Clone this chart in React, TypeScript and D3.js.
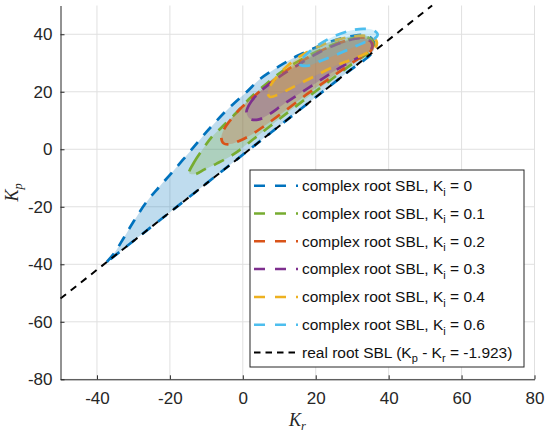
import React, { useEffect, useRef } from 'react'
import * as d3 from 'd3'

const xTicks = [-40, -20, 0, 20, 40, 60, 80]
const yTicks = [-80, -60, -40, -20, 0, 20, 40]

// Ki = 0 (cusp at the lower-left end, lower side is the real root line)
const kr0 = [-37.3, -35.2, -32.5, -30, -26.4, -23, -19.5, -14.5, -9.9, -4.4, 1.1, 4.7, 10, 15, 20, 25, 30, 33.5, 35.5, 36.1, 35.6, 28, 18, 8, -2, -12, -22, -32, -37.3]
const kp0 = [-39.2, -36.0, -30.5, -25.2, -18.3, -13.2, -8.2, -0.8, 6.1, 13.6, 20.0, 24.4, 28.9, 32.5, 35.4, 37.8, 39.4, 39.7, 38.3, 35.8, 33.7, 26.1, 16.1, 6.1, -3.9, -13.9, -23.9, -33.9, -39.2]

// Ki = 0.1
const kr1 = [-14.7, -13.3, -11, -8.5, -5.5, -1.7, 2, 6.5, 11, 16, 21, 26, 30.5, 33.8, 35.5, 35.8, 34.5, 30, 24, 17, 10, 4, -2.6, -7.2, -10.5, -13]
const kp1 = [-8.3, -4.4, 0, 4.3, 8, 12.8, 17.8, 22.8, 27.3, 31.2, 34.4, 37.0, 38.7, 39.1, 37.6, 35.5, 33.6, 29.7, 24.0, 17.3, 10.5, 4.6, -1.8, -5.0, -7.0, -8.6]

// Ki = 0.2
const kr2 = [-5.9, -5.0, -3.0, -0.8, 2.0, 4.7, 8.5, 13, 18, 23, 28, 32, 34.8, 35.6, 35.2, 31, 25, 18, 11, 6, 2, -1, -3.5, -5.2]
const kp2 = [4.0, 7.3, 10.8, 14.0, 17.2, 20.2, 24.0, 28.3, 32.0, 35.2, 37.6, 38.8, 38.3, 36.4, 34.4, 30.9, 25.7, 19.5, 12.8, 8.2, 4.8, 2.9, 1.8, 2.0]

// Ki = 0.3
const kr3 = [1.0, 1.8, 4.2, 7.9, 12, 16, 20.5, 25, 29, 32.5, 35, 35.5, 34.5, 31, 26, 21, 16, 11, 7, 4.2, 2]
const kp3 = [12.8, 15.6, 19.4, 23.3, 26.9, 30.0, 33.4, 36.1, 37.9, 38.6, 37.6, 35.6, 34.0, 31.5, 27.9, 23.8, 19.7, 15.5, 12.0, 10.3, 10.6]

// Ki = 0.4
const kr4 = [6.8, 7.6, 9.5, 12.5, 16, 20, 24.5, 29, 33, 35.8, 36.8, 36.2, 33, 29.4, 25.8, 20.3, 13.9, 10, 7.5]
const kp4 = [19.6, 22.2, 25.5, 29.3, 32.6, 35.3, 37.6, 39.0, 39.5, 38.8, 37.0, 35.2, 32.9, 31.0, 29.2, 25.8, 21.7, 19.2, 18.2]

// Ki = 0.6
const kr6 = [15.6, 16.5, 18.5, 21.5, 25, 29, 33, 36, 37, 36.2, 33, 29.5, 25.5, 21.5, 17.5]
const kp6 = [29.6, 31.8, 34.2, 36.9, 39.3, 41.1, 41.9, 41.3, 39.8, 38.5, 37.0, 35.0, 32.8, 30.8, 29.0]

// real root SBL: Kp - Kr = -1.923
const realKr = [-50, 51.923]
const realKp = [-51.923, 50]

const kiLabels = ['0', '0.1', '0.2', '0.3', '0.4', '0.6']
const colors = ['#0072BD', '#77AC30', '#D95319', '#7E2F8E', '#EDB120', '#4DBEEE']

const App: React.FC = () => {
  const svgRef = useRef<SVGSVGElement>(null)

  useEffect(() => {
    document.body.style.margin = '0'
    const svg = d3.select(svgRef.current)
    svg.selectAll('*').remove()

    const width = 550
    const height = 434
    svg.attr('width', width).attr('height', height)

    const x = d3.scaleLinear().domain([-50, 80]).range([60.5, 534.5])
    const y = d3.scaleLinear().domain([-80, 50]).range([379.3, 5.5])

    const font = "'Liberation Sans', Arial, Helvetica, sans-serif"
    const axisColor = '#262626'

    // grid
    const grid = svg.append('g')
    grid.selectAll('.gx')
      .data(xTicks)
      .enter()
      .append('line')
      .attr('x1', d => x(d))
      .attr('x2', d => x(d))
      .attr('y1', y(-80))
      .attr('y2', y(50))
      .attr('stroke', '#e0e0e0')
      .attr('stroke-width', 1)
    grid.selectAll('.gy')
      .data(yTicks)
      .enter()
      .append('line')
      .attr('x1', x(-50))
      .attr('x2', x(80))
      .attr('y1', d => y(d))
      .attr('y2', d => y(d))
      .attr('stroke', '#e0e0e0')
      .attr('stroke-width', 1)

    // stability regions
    const regions = [
      { kr: kr0, kp: kp0, cusp: true },
      { kr: kr1, kp: kp1, cusp: false },
      { kr: kr2, kp: kp2, cusp: false },
      { kr: kr3, kp: kp3, cusp: false },
      { kr: kr4, kp: kp4, cusp: false },
      { kr: kr6, kp: kp6, cusp: false },
    ]

    regions.forEach((r, i) => {
      const pts = r.kr.map((k, j) => [k, r.kp[j]] as [number, number])
      const line = d3.line<[number, number]>()
        .x(d => x(d[0]))
        .y(d => y(d[1]))
        .curve(r.cusp ? d3.curveCatmullRom : d3.curveCatmullRomClosed)
      svg.append('path')
        .attr('d', line(pts))
        .attr('fill', colors[i])
        .attr('fill-opacity', 0.25)
        .attr('stroke', colors[i])
        .attr('stroke-width', 2.7)
        .attr('stroke-dasharray', '11,9')
    })

    // real root line
    svg.append('line')
      .attr('x1', x(realKr[0]))
      .attr('y1', y(realKp[0]))
      .attr('x2', x(realKr[1]))
      .attr('y2', y(realKp[1]))
      .attr('stroke', '#000')
      .attr('stroke-width', 2)
      .attr('stroke-dasharray', '7,6')

    // axes
    const fmt = (d: d3.NumberValue) => String(d)
    const xAxis = svg.append('g')
      .attr('transform', `translate(0,${y(-80)})`)
      .call(d3.axisBottom(x).tickValues(xTicks).tickFormat(fmt).tickSizeInner(-4).tickSizeOuter(0).tickPadding(13))
    const yAxis = svg.append('g')
      .attr('transform', `translate(${x(-50)},0)`)
      .call(d3.axisLeft(y).tickValues(yTicks).tickFormat(fmt).tickSizeInner(-4).tickSizeOuter(0).tickPadding(8))
    ;[xAxis, yAxis].forEach(a => {
      a.attr('font-size', 17).attr('font-family', font).attr('color', axisColor)
      a.select('.domain').attr('stroke-width', 1)
    })

    // axis labels
    const xl = svg.append('text')
      .attr('x', 297.5)
      .attr('y', 426)
      .attr('text-anchor', 'middle')
      .attr('font-family', "'Liberation Serif', 'Times New Roman', serif")
      .attr('font-style', 'italic')
      .attr('font-size', 18)
      .attr('fill', axisColor)
    xl.append('tspan').text('K')
    xl.append('tspan').attr('dy', 4).attr('font-size', 12.5).text('r')

    const yl = svg.append('text')
      .attr('transform', 'translate(18,192.4) rotate(-90)')
      .attr('text-anchor', 'middle')
      .attr('font-family', "'Liberation Serif', 'Times New Roman', serif")
      .attr('font-style', 'italic')
      .attr('font-size', 18)
      .attr('fill', axisColor)
    yl.append('tspan').text('K')
    yl.append('tspan').attr('dy', 4).attr('font-size', 12.5).text('p')

    // legend
    const lg = svg.append('g')
    lg.append('rect')
      .attr('x', 250)
      .attr('y', 170)
      .attr('width', 274)
      .attr('height', 197)
      .attr('fill', '#fff')
      .attr('stroke', axisColor)
      .attr('stroke-width', 1)

    const rowY = (i: number) => 185.7 + i * 27.8
    const fs = 15.5
    const sub = 11

    kiLabels.forEach((ki, i) => {
      const yy = rowY(i)
      lg.append('line')
        .attr('x1', 254)
        .attr('x2', 298)
        .attr('y1', yy)
        .attr('y2', yy)
        .attr('stroke', colors[i])
        .attr('stroke-width', 2.5)
        .attr('stroke-dasharray', '11,10')
      const t = lg.append('text')
        .attr('x', 302)
        .attr('y', yy + 5.3)
        .attr('font-size', fs)
        .attr('font-family', font)
        .attr('fill', '#111')
      t.append('tspan').text('complex root SBL, K')
      t.append('tspan').attr('dy', 4.5).attr('font-size', sub).text('i')
      t.append('tspan').attr('dy', -4.5).text(` = ${ki}`)
    })

    const yb = rowY(6)
    lg.append('line')
      .attr('x1', 254)
      .attr('x2', 298)
      .attr('y1', yb)
      .attr('y2', yb)
      .attr('stroke', '#000')
      .attr('stroke-width', 2)
      .attr('stroke-dasharray', '6.5,5')
    const tb = lg.append('text')
      .attr('x', 302)
      .attr('y', yb + 5.3)
      .attr('font-size', fs)
      .attr('font-family', font)
      .attr('fill', '#111')
    tb.append('tspan').text('real root SBL (K')
    tb.append('tspan').attr('dy', 4.5).attr('font-size', sub).text('p')
    tb.append('tspan').attr('dy', -4.5).text(' - K')
    tb.append('tspan').attr('dy', 4.5).attr('font-size', sub).text('r')
    tb.append('tspan').attr('dy', -4.5).text(' = -1.923)')
  }, [])

  return <svg ref={svgRef} style={{ display: 'block' }}></svg>
}

export default App
